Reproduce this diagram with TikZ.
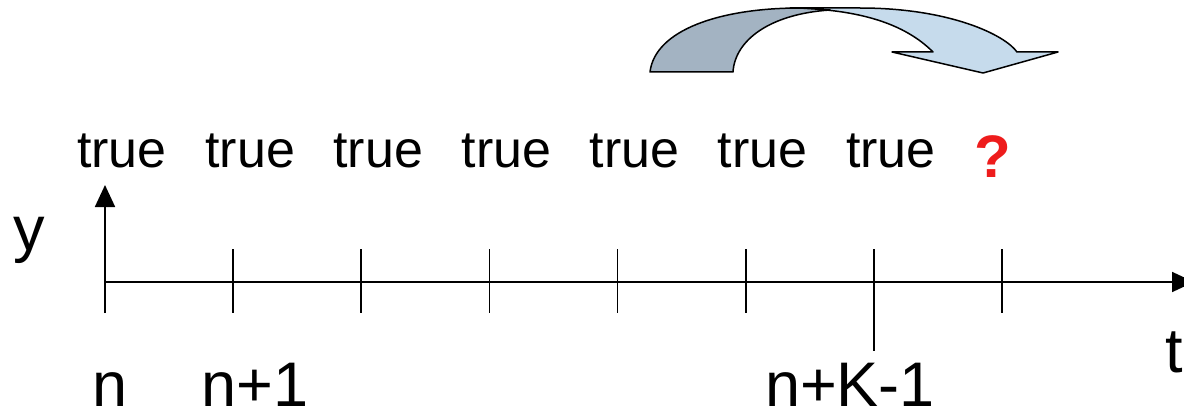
\documentclass[tikz,border=0pt]{standalone}
\usepackage{fontspec}
\setmainfont{Liberation Sans}
\usepackage{tikz}
\usetikzlibrary{arrows.meta}
\definecolor{backarc}{HTML}{A3B3C2}
\definecolor{frontarc}{HTML}{C6DBEC}
\definecolor{qred}{HTML}{EE1C1C}

\begin{document}
\begin{tikzpicture}[
    x=1pt, y=-1pt,
    axis/.style={line width=1.8pt, -{Triangle[length=22pt,width=20pt]}},
    tickline/.style={line width=1.6pt},
    truelabel/.style={anchor=base, inner sep=0pt, font=\fontsize{52}{60}\selectfont},
    axislabel/.style={anchor=base, inner sep=0pt, font=\fontsize{63}{70}\selectfont},
    band/.style={draw=black, line width=1.5pt, line join=round}
]
    \useasboundingbox (0,0) rectangle (1184,420);

    % curved arrow: front half first, back half over it
    \path[band, fill=frontarc] (790,8) -- (860,8)
        .. controls (950,8) and (1005,35) .. (1017,52)
        -- (1058,52) -- (983,73) -- (892,52) -- (933,52)
        .. controls (905,24) and (860,9) .. (790,8) -- cycle;
    \path[band, fill=backarc] (650,72)
        .. controls (655,30) and (720,8) .. (800,8) -- (830,10)
        .. controls (770,14) and (735,40) .. (733,72) -- cycle;

    % axes
    \coordinate (origin) at (105,282);
    \coordinate (yfoot) at (105,313);
    \coordinate (ytip) at (105,185);
    \coordinate (tend) at (1194,282);
    \draw[axis] (origin) -- (tend);
    \draw[axis] (yfoot) -- (ytip);

    \foreach \i in {1,...,7} {
        \draw[tickline] (105+128.14*\i,249) -- (105+128.14*\i,313);
    }
    \draw[tickline] (874,313) -- (874,351);

    % values above the axis
    \foreach \i in {0,...,6} {
        \node[truelabel] (true\i) at (122+128.14*\i,167) {true};
    }
    \node[truelabel, font=\fontsize{60}{66}\selectfont\bfseries, text=qred]
        (unknown) at (993,177) {?};

    % axis labels
    \node[axislabel] (ylabel) at (29,250) {y};
    \node[axislabel] (tlabel) at (1174,372) {t};
    \node[axislabel] (step0) at (110,406) {n};
    \node[axislabel] (step1) at (255,406) {n+1};
    \node[axislabel] (stepK) at (850,406) {n+K-1};
\end{tikzpicture}
\end{document}
